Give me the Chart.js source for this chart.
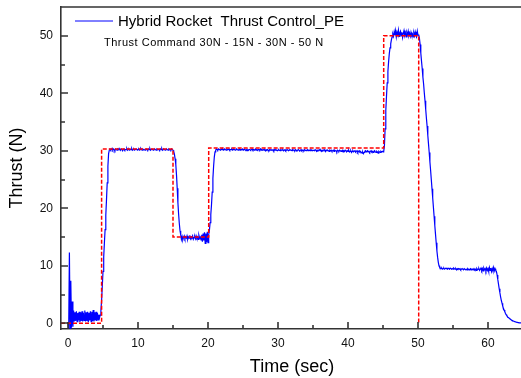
<!DOCTYPE html>
<html>
<head>
<meta charset="utf-8">
<script src="https://cdn.jsdelivr.net/npm/chart.js@4.4.0/dist/chart.umd.min.js"></script>
<style>
  html, body { margin: 0; padding: 0; background: #fff; overflow: hidden; }
  canvas { display: block; }
</style>
</head>
<body>
<canvas id="thrustChart" width="524" height="378"></canvas>
<script>
// Measured thrust (N), one sample every 0.1 s from t = 0, one row per second
const sampleStep = 0.1;
const thrustMeasured = [
    0.0, -0.9, 12.3, -1.0, 7.4, -0.8, 3.8, -0.6, 2.2, 0.3,   // 0
    1.9, 0.4, 2.1, 0.3, 1.8, 0.5, 2.0, 0.2, 1.9, 0.4,        // 1
    2.1, 0.3, 1.8, 0.5, 2.2, 0.3, 1.9, 0.4, 2.0, 0.2,        // 2
    1.8, 0.5, 2.1, 0.3, 2.0, 0.4, 2.3, 0.3, 1.9, 0.5,        // 3
    2.0, 0.4, 1.8, 0.6, 1.5, 0.9, 1.4, 2.2, 4.0, 6.5,        // 4
    9.0, 11.5, 14.0, 16.3, 18.8, 21.5, 24.4, 27.3, 29.5, 30.1, // 5
    30.3, 30.1, 30.2, 30.4, 30.1, 30.3, 30.2, 30.0, 30.3, 30.2, // 6
    30.1, 30.3, 30.2, 30.4, 30.2, 30.1, 30.3, 30.2, 30.0, 30.2, // 7
    30.3, 30.1, 30.2, 30.2, 30.4, 30.1, 30.2, 30.3, 30.1, 30.2, // 8
    30.2, 30.4, 30.1, 30.2, 30.3, 30.1, 30.2, 30.2, 30.3, 30.1, // 9
    30.2, 30.3, 30.1, 30.2, 30.4, 30.2, 30.1, 30.3, 30.2, 30.2, // 10
    30.1, 30.2, 30.3, 30.2, 30.1, 30.3, 30.2, 30.4, 30.1, 30.2, // 11
    30.3, 30.2, 30.1, 30.2, 30.3, 30.2, 30.1, 30.3, 30.2, 30.2, // 12
    30.2, 30.1, 30.3, 30.2, 30.4, 30.1, 30.2, 30.3, 30.2, 30.1, // 13
    30.2, 30.3, 30.2, 30.1, 30.3, 30.2, 30.2, 30.1, 30.3, 30.2, // 14
    30.1, 29.9, 29.4, 28.6, 27.6, 25.8, 23.5, 21.0, 19.0, 17.4, // 15
    16.1, 15.4, 14.6, 15.1, 14.5, 14.9, 15.2, 14.7, 15.0, 14.8, // 16
    15.2, 14.6, 15.0, 14.8, 15.3, 14.7, 15.0, 14.9, 15.2, 14.6, // 17
    14.9, 15.1, 14.7, 15.2, 14.8, 15.0, 14.6, 15.3, 14.8, 15.0, // 18
    14.5, 15.4, 14.2, 15.6, 14.4, 15.8, 13.9, 15.6, 14.1, 15.9, // 19
    14.0, 15.4, 16.2, 17.5, 18.9, 20.6, 22.8, 25.2, 27.3, 28.9, // 20
    29.8, 30.1, 30.3, 30.2, 30.1, 30.3, 30.2, 30.2, 30.1, 30.3, // 21
    30.2, 30.3, 30.1, 30.2, 30.3, 30.2, 30.1, 30.3, 30.2, 30.2, // 22
    30.3, 30.1, 30.2, 30.2, 30.3, 30.1, 30.2, 30.3, 30.2, 30.1, // 23
    30.2, 30.3, 30.2, 30.1, 30.2, 30.3, 30.1, 30.2, 30.2, 30.3, // 24
    30.1, 30.2, 30.3, 30.2, 30.1, 30.2, 30.0, 30.2, 30.1, 30.2, // 25
    30.2, 30.1, 30.2, 30.3, 30.1, 30.2, 30.1, 30.2, 30.3, 30.1, // 26
    30.2, 30.1, 30.2, 30.2, 30.1, 30.3, 30.1, 30.2, 30.1, 30.2, // 27
    30.1, 30.2, 30.0, 30.2, 30.1, 30.2, 30.1, 30.0, 30.2, 30.1, // 28
    30.2, 30.1, 30.1, 30.2, 30.0, 30.2, 30.1, 30.2, 30.1, 30.0, // 29
    30.1, 30.2, 30.1, 30.0, 30.2, 30.1, 30.1, 30.2, 30.0, 30.1, // 30
    30.2, 30.0, 30.1, 30.2, 30.1, 30.0, 30.1, 30.2, 30.1, 30.1, // 31
    30.0, 30.2, 30.1, 30.1, 30.0, 30.2, 30.1, 30.0, 30.1, 30.2, // 32
    30.1, 30.0, 30.1, 30.2, 30.0, 30.1, 30.1, 30.0, 30.2, 30.1, // 33
    30.0, 30.1, 30.2, 30.0, 30.1, 30.1, 30.0, 30.2, 30.1, 30.0, // 34
    30.1, 30.1, 30.0, 30.2, 30.1, 29.9, 30.1, 30.0, 30.1, 30.2, // 35
    30.0, 30.1, 29.9, 30.1, 30.0, 30.1, 30.2, 30.0, 29.9, 30.1, // 36
    30.0, 30.1, 30.0, 29.9, 30.1, 30.0, 30.1, 29.9, 30.0, 30.1, // 37
    29.9, 30.1, 30.0, 30.0, 29.8, 30.1, 30.0, 29.9, 30.1, 30.0, // 38
    29.9, 30.0, 30.1, 29.8, 30.0, 29.9, 30.1, 30.0, 29.8, 30.0, // 39
    29.9, 30.1, 29.8, 29.9, 30.0, 29.7, 29.9, 30.0, 29.8, 29.9, // 40
    30.0, 29.8, 29.9, 30.0, 29.7, 29.9, 30.0, 29.8, 29.9, 29.7, // 41
    29.6, 29.8, 29.5, 29.7, 29.9, 30.0, 29.8, 29.9, 30.0, 29.8, // 42
    29.9, 29.7, 29.9, 30.0, 29.8, 29.9, 29.7, 29.9, 30.0, 29.8, // 43
    29.7, 29.9, 29.8, 29.6, 29.9, 29.8, 29.7, 29.9, 29.8, 29.9, // 44
    29.8, 29.9, 30.8, 33.8, 37.0, 39.5, 41.8, 43.8, 45.5, 46.9, // 45
    47.9, 48.6, 49.3, 49.8, 50.3, 49.9, 50.7, 50.1, 50.9, 49.8, // 46
    50.6, 50.2, 51.0, 49.9, 50.5, 50.8, 50.0, 50.6, 49.7, 50.4, // 47
    50.9, 50.1, 50.5, 49.8, 50.6, 50.2, 50.8, 50.0, 50.4, 49.9, // 48
    50.6, 50.1, 50.3, 49.8, 50.5, 50.0, 50.7, 50.2, 49.9, 50.8, // 49
    50.1, 50.2, 49.6, 48.5, 47.0, 45.6, 44.3, 42.8, 41.6, 40.1, // 50
    38.7, 37.2, 35.7, 34.3, 32.7, 31.2, 29.7, 28.1, 26.6, 25.0, // 51
    23.4, 21.8, 20.2, 18.6, 17.0, 15.5, 14.0, 12.6, 11.5, 10.6, // 52
    10.0, 9.7, 9.6, 9.5, 9.6, 9.4, 9.5, 9.6, 9.4, 9.5,          // 53
    9.6, 9.5, 9.4, 9.6, 9.5, 9.4, 9.6, 9.5, 9.4, 9.5,           // 54
    9.4, 9.6, 9.5, 9.4, 9.5, 9.3, 9.5, 9.4, 9.5, 9.4,           // 55
    9.5, 9.3, 9.4, 9.5, 9.4, 9.3, 9.5, 9.4, 9.3, 9.4,           // 56
    9.3, 9.5, 9.4, 9.3, 9.4, 9.5, 9.3, 9.4, 9.4, 9.3,           // 57
    9.5, 9.3, 9.4, 9.2, 9.5, 9.3, 9.4, 9.5, 9.2, 9.4,           // 58
    9.6, 9.2, 9.5, 9.1, 9.6, 9.3, 9.5, 9.1, 9.6, 9.2,           // 59
    9.5, 9.0, 9.7, 9.2, 9.6, 9.0, 9.5, 9.1, 9.7, 9.1,           // 60
    9.5, 9.2, 9.0, 8.4, 7.6, 6.8, 6.0, 5.3, 4.6, 4.0,           // 61
    3.5, 3.0, 2.6, 2.3, 2.0, 1.7, 1.5, 1.3, 1.1, 1.0,           // 62
    0.9, 0.8, 0.7, 0.6, 0.5, 0.45, 0.4, 0.35, 0.3, 0.25,        // 63
    0.2, 0.18, 0.15, 0.12, 0.1, 0.08, 0.06, 0.05, 0.04, 0.03    // 64
];

// Thrust command step profile: 30N - 15N - 30N - 50N
const commandTime = [-1, 4.8, 4.8, 15.0, 15.0, 20.1, 20.1, 45.1, 45.1, 50.1, 50.1];
const commandThrust = [0, 0, 30.3, 30.3, 15.0, 15.0, 30.5, 30.5, 50.0, 50.0, 0];

const xMajorTicks = [0, 10, 20, 30, 40, 50, 60];
const xMinorTicks = [5, 15, 25, 35, 45, 55, 65];
const yMajorTicks = [0, 10, 20, 30, 40, 50];
const yMinorTicks = [5, 15, 25, 35, 45];

const legendMain = 'Hybrid Rocket  Thrust Control_PE';
const legendSub = 'Thrust Command 30N - 15N - 30N - 50 N';

const axisColor = '#333';
const measuredPoints = thrustMeasured.map((v, i) => ({ x: Math.round(i * sampleStep * 10) / 10, y: v }));
const commandPoints = commandTime.map((t, i) => ({ x: t, y: commandThrust[i] }));

// inward tick marks, top frame line and the text legend
const frameAndTicks = {
    id: 'frameAndTicks',
    afterDraw(chart) {
        const { ctx, chartArea: a, scales: { x, y } } = chart;
        ctx.save();
        ctx.strokeStyle = axisColor;
        ctx.lineWidth = 1.6;
        ctx.beginPath();
        ctx.moveTo(a.left, a.top);
        ctx.lineTo(a.right, a.top);
        const xTicks = (vals, len) => vals.forEach(v => {
            const px = Math.round(x.getPixelForValue(v));
            ctx.moveTo(px, a.bottom);
            ctx.lineTo(px, a.bottom - len);
        });
        const yTicks = (vals, len) => vals.forEach(v => {
            const py = Math.round(y.getPixelForValue(v));
            ctx.moveTo(a.left, py);
            ctx.lineTo(a.left + len, py);
        });
        xTicks(xMajorTicks, 7);
        xTicks(xMinorTicks, 4);
        yTicks(yMajorTicks, 7);
        yTicks(yMinorTicks, 4);
        ctx.stroke();

        // legend
        ctx.strokeStyle = 'rgb(0, 0, 255)';
        ctx.lineWidth = 1;
        ctx.beginPath();
        ctx.moveTo(75, 21);
        ctx.lineTo(113, 21);
        ctx.stroke();
        ctx.fillStyle = '#000';
        ctx.textBaseline = 'middle';
        ctx.font = '15px Arial, "Liberation Sans", sans-serif';
        ctx.fillText(legendMain, 118, 21.5);
        ctx.font = '11px Arial, "Liberation Sans", sans-serif';
        ctx.letterSpacing = '0.5px';
        ctx.fillText(legendSub, 104, 43);
        ctx.restore();
    }
};

new Chart(document.getElementById('thrustChart'), {
    type: 'line',
    data: {
        datasets: [{
            label: 'Thrust Command',
            data: commandPoints,
            borderColor: 'rgb(255, 0, 0)',
            borderWidth: 1.5,
            borderDash: [4, 2],
            pointRadius: 0,
            tension: 0
        }, {
            label: 'Hybrid Rocket Thrust Control_PE',
            data: measuredPoints,
            borderColor: 'rgb(0, 0, 255)',
            borderWidth: 1.2,
            pointRadius: 0,
            tension: 0
        }]
    },
    options: {
        responsive: false,
        animation: false,
        layout: { padding: { top: 7, right: 1, left: 0, bottom: 0 } },
        plugins: {
            legend: { display: false },
            tooltip: { enabled: false }
        },
        scales: {
            x: {
                type: 'linear',
                min: -1,
                max: 65,
                afterBuildTicks: s => { s.ticks = xMajorTicks.map(v => ({ value: v })); },
                afterFit: s => { s.height = 49; s.paddingLeft = 0; s.paddingRight = 0; },
                grid: { display: false, drawTicks: false },
                border: { display: true, color: axisColor, width: 1.6 },
                ticks: {
                    padding: 7,
                    color: '#111',
                    font: { family: 'Arial, "Liberation Sans", sans-serif', size: 12 }
                },
                title: {
                    display: true,
                    text: 'Time (sec)',
                    color: '#000',
                    padding: 0,
                    font: { family: 'Arial, "Liberation Sans", sans-serif', size: 18 }
                }
            },
            y: {
                type: 'linear',
                min: -1,
                max: 55,
                afterBuildTicks: s => { s.ticks = yMajorTicks.map(v => ({ value: v })); },
                afterFit: s => { s.width = 61; s.paddingTop = 0; s.paddingBottom = 0; },
                grid: { display: false, drawTicks: false },
                border: { display: true, color: axisColor, width: 1.6 },
                ticks: {
                    padding: 8,
                    color: '#111',
                    font: { family: 'Arial, "Liberation Sans", sans-serif', size: 12 }
                },
                title: {
                    display: true,
                    text: 'Thrust (N)',
                    color: '#000',
                    padding: { top: 6, bottom: 0 },
                    font: { family: 'Arial, "Liberation Sans", sans-serif', size: 18 }
                }
            }
        }
    },
    plugins: [frameAndTicks]
});
</script>
</body>
</html>
